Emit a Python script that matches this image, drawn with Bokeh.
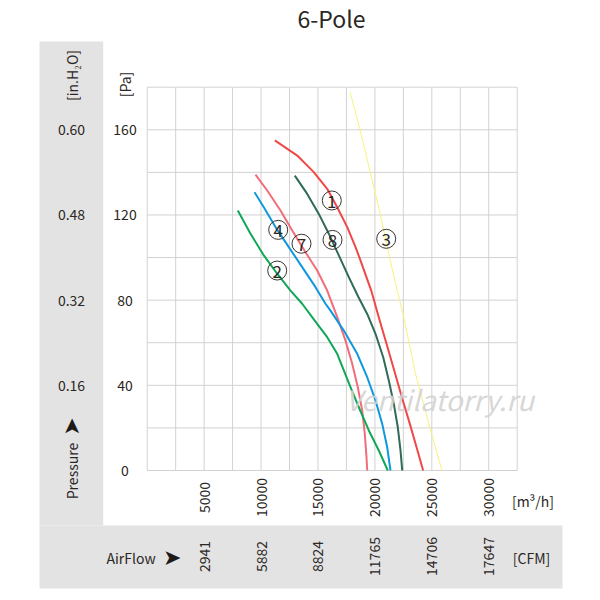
import math
from bokeh.plotting import figure
from bokeh.models import ColumnDataSource, Range1d
from bokeh.core.properties import value
from bokeh.embed import file_html
from bokeh.resources import INLINE

# ---------------- data ----------------
title_text = "6-Pole"

x_ticks = [5000, 10000, 15000, 20000, 25000, 30000]
x_tick_labels = ["5000", "10000", "15000", "20000", "25000", "30000"]
cfm_labels = ["2941", "5882", "8824", "11765", "14706", "17647"]

pa_ticks = [0, 40, 80, 120, 160]
pa_tick_labels = ["0", "40", "80", "120", "160"]
inh2o_ticks = [40, 80, 120, 160]
inh2o_tick_labels = ["0.16", "0.32", "0.48", "0.60"]

# curves: airflow [m3/h], pressure [Pa]
c1_x = [11210, 13180, 14630, 15810, 16690, 17570, 18300, 18740, 19680, 20340, 21020, 21700, 22370, 23070, 23660, 24240]
c1_y = [155.0, 147.9, 140.1, 132.3, 123.6, 114.3, 104.9, 98.6, 84.5, 72.0, 59.5, 47.0, 34.4, 21.9, 10.9, 0.0]

c8_x = [12965, 14054, 15074, 15952, 16830, 17709, 18550, 19325, 20054, 20731, 21223, 21662, 22013, 22250, 22400]
c8_y = [138.5, 129.9, 120.5, 111.2, 101.0, 90.8, 81.5, 73.5, 64.2, 53.2, 42.3, 31.3, 20.3, 9.4, 0.0]

c3_x = [17830, 18710, 19590, 20470, 21345, 21960, 22500, 23540, 24736, 25890]
c3_y = [177.6, 159.7, 140.1, 120.5, 98.6, 84.5, 73.0, 46.0, 21.9, 0.0]

c7_x = [9513, 10541, 11709, 12737, 13905, 14933, 15811, 16690, 17419, 18007, 18500, 18886, 19114, 19264, 19325]
c7_y = [138.9, 131.5, 122.1, 112.7, 102.5, 93.9, 84.5, 72.0, 61.0, 50.1, 39.1, 28.2, 17.2, 6.2, 0.0]

c4_x = [9425, 10242, 11270, 12438, 13615, 14784, 15662, 16101, 17270, 18447, 19325, 20054, 20643, 21082, 21371]
c4_y = [130.7, 123.6, 114.3, 104.9, 95.5, 86.1, 78.3, 75.1, 65.7, 54.8, 43.8, 32.9, 21.9, 10.9, 0.0]

c2_x = [7958, 9074, 10242, 11419, 12588, 13615, 14634, 15811, 16690, 17270, 17857, 18587, 19466, 20344, 21134]
c2_y = [122.1, 111.2, 101.0, 92.4, 84.5, 78.3, 71.0, 62.6, 54.8, 47.0, 39.1, 29.7, 18.8, 9.4, 0.0]

curve_colors = ["#f04848", "#2f6b58", "#f8f27e", "#f26d7a", "#1098dc", "#10a858"]
curve_widths = [2, 2, 1, 2, 2, 2]

marker_names = ["1", "8", "3", "7", "4", "2"]
marker_x = [16215, 16277, 20994, 13554, 11507, 11419]
marker_y = [126.8, 108.3, 108.8, 106.5, 113.0, 93.9]

# ---------------- layout helpers ----------------
FONT = "Noto Sans CJK SC"
TXT = "#2b2724"
X_MAX, Y_MAX = 32500, 180
W, H = 584, 592
fx0, fw, fy0, fh = 146.7, 370.0, 470.0, 383.3   # plot area in canvas pixels


def dx(px):
    return (px - fx0) * X_MAX / fw


def dy(py):
    return (fy0 - py) * Y_MAX / fh


p = figure(width=W, height=H, x_range=Range1d(dx(0), dx(W)), y_range=Range1d(dy(H), dy(0)),
           output_backend="svg", toolbar_location=None,
           x_axis_location=None, y_axis_location=None,
           min_border=0, min_border_left=0, min_border_right=0,
           min_border_top=0, min_border_bottom=0)
p.background_fill_color = "white"
p.border_fill_color = "white"
p.outline_line_color = None
p.grid.visible = False

# gray panels
p.quad(left=[dx(39), dx(39)], right=[dx(102.7), dx(562)],
       top=[dy(41), dy(525)], bottom=[dy(525), dy(588)],
       fill_color="#e3e3e3", line_color=None)

# grid of the plot area
gx = list(range(0, X_MAX + 1, 2500))
gy = list(range(0, Y_MAX + 1, 20))
p.segment(x0=gx, y0=[0] * len(gx), x1=gx, y1=[Y_MAX] * len(gx), line_color="#d2d2d2", line_width=1)
p.segment(x0=[0] * len(gy), y0=gy, x1=[X_MAX] * len(gy), y1=gy, line_color="#d2d2d2", line_width=1)

# curves
all_x = [c1_x, c8_x, c3_x, c7_x, c4_x, c2_x]
all_y = [c1_y, c8_y, c3_y, c7_y, c4_y, c2_y]
for xs, ys, col, w in zip(all_x, all_y, curve_colors, curve_widths):
    p.line(xs, ys, line_color=col, line_width=w, line_join="round")

# circled curve numbers
msrc = ColumnDataSource(dict(x=marker_x, y=marker_y, t=marker_names))
p.scatter("x", "y", source=msrc, size=19, marker="circle", fill_alpha=0,
          line_color="#3a3430", line_width=1)
p.text("x", "y", text="t", source=msrc, text_align="center", text_baseline="middle",
       text_font=value(FONT), text_font_size="17px", text_color=TXT, y_offset=1)

# watermark
p.text(x=[dx(345)], y=[dy(398)], text=["Ventilatorry.ru"], text_font=value(FONT),
       text_font_style="italic", text_font_size="28px", text_color="#d2d2d2", text_alpha=0.9,
       text_align="left", text_baseline="middle")


def txt(x, y, t, size="14px", angle=0.0, align="center", font=FONT, color=TXT):
    p.text(x=x, y=y, text=t, angle=angle, text_font=value(font), text_font_size=size,
           text_color=color, text_align=align, text_baseline="middle")


# title
txt([dx(331)], [dy(17)], [title_text], size="23px")

# y tick labels and units
txt([dx(124.5)] * len(pa_ticks), pa_ticks, pa_tick_labels)
txt([dx(71)] * len(inh2o_ticks), inh2o_ticks, inh2o_tick_labels)
txt([dx(124.5)], [dy(84)], ["[Pa]"], angle=math.pi / 2)
txt([dx(71)], [dy(75)], ["[in.H\u2082O]"], angle=math.pi / 2)
txt([dx(71)], [dy(470.5)], ["Pressure"], angle=math.pi / 2)
txt([dx(70.5)], [dy(426)], ["\u27a4"], size="22px", angle=math.pi / 2, font="DejaVu Sans", color="#1e1a17")

# x tick labels and units
txt(x_ticks, [dy(497)] * len(x_ticks), x_tick_labels, angle=math.pi / 2)
txt(x_ticks, [dy(556)] * len(x_ticks), cfm_labels, angle=math.pi / 2)
txt([dx(532.5)], [dy(500)], ["[m\u00b3/h]"])
txt([dx(531)], [dy(557)], ["[CFM]"])
txt([dx(106)], [dy(557)], ["AirFlow"], align="left")
txt([dx(171.7)], [dy(557)], ["\u27a4"], size="22px", font="DejaVu Sans", color="#1e1a17")

open("out.html", "w").write(file_html(p, INLINE))
